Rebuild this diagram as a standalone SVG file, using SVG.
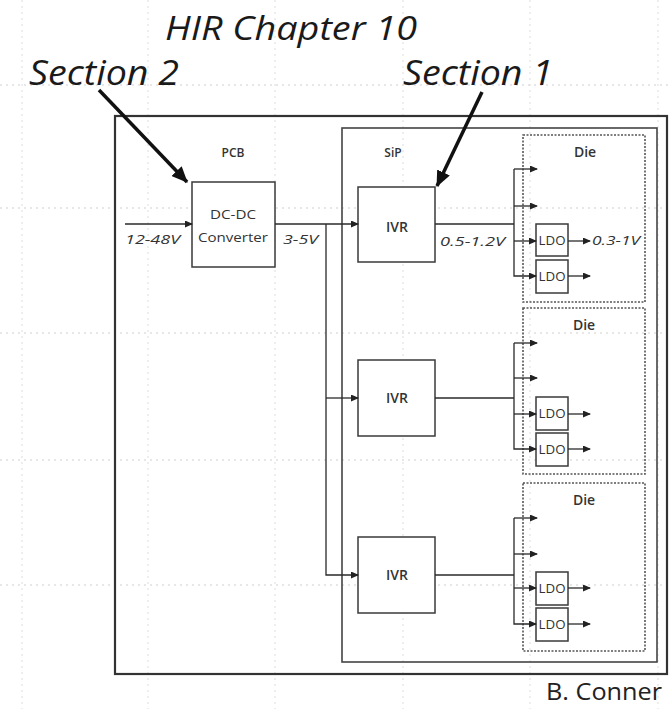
<svg xmlns="http://www.w3.org/2000/svg" width="669" height="709" viewBox="0 0 669 709">
<style>
.grid line{stroke:#cfcfcf;stroke-width:1;stroke-dasharray:2 4;fill:none}
.grid .v{stroke:#dddddd}
.box{fill:#fff;stroke:#3a3a3a;stroke-width:1.5}
.die{fill:none;stroke:#555;stroke-width:1.6;stroke-dasharray:2 1.5}
.ln{stroke:#2a2a2a;stroke-width:1.3;fill:none}
.big{font-family:"Open Sans","Noto Sans",sans-serif;font-style:italic;fill:#1a1a1a}
.lbl{font-family:"Open Sans","Noto Sans",sans-serif;font-weight:600;fill:#333;text-anchor:middle}
.reg{font-family:"Open Sans","Noto Sans",sans-serif;fill:#333;text-anchor:middle}
.v{font-family:"Open Sans","Noto Sans",sans-serif;font-style:italic;fill:#333}
</style>
<defs>
<marker id="ah" markerUnits="userSpaceOnUse" markerWidth="8" markerHeight="7" refX="7" refY="3.5" orient="auto"><path d="M0,0 L8,3.5 L0,7 z" fill="#222"/></marker>
<marker id="bh" markerUnits="userSpaceOnUse" markerWidth="16" markerHeight="14" refX="15" refY="7" orient="auto"><path d="M0,0 L16,7 L0,14 z" fill="#111"/></marker>
</defs>
<rect width="669" height="709" fill="#fff"/>
<g class="grid">
<line x1="0" y1="85" x2="669" y2="85"/>
<line x1="0" y1="208" x2="669" y2="208"/>
<line x1="0" y1="333" x2="669" y2="333"/>
<line x1="0" y1="460" x2="669" y2="460"/>
<line x1="0" y1="585" x2="669" y2="585"/>
<line class="v" x1="22" y1="0" x2="22" y2="709"/>
<line class="v" x1="148" y1="0" x2="148" y2="709"/>
<line class="v" x1="275" y1="0" x2="275" y2="709"/>
<line class="v" x1="403" y1="0" x2="403" y2="709"/>
<line class="v" x1="530" y1="0" x2="530" y2="709"/>
<line class="v" x1="658" y1="0" x2="658" y2="709"/>
</g>
<g id="title">
<text class="big" x="165" y="40" font-size="33" textLength="252" lengthAdjust="spacingAndGlyphs">HIR Chapter 10</text>
<text class="big" x="29" y="85" font-size="34" textLength="150" lengthAdjust="spacingAndGlyphs">Section 2</text>
<text class="big" x="403" y="85" font-size="34" textLength="150" lengthAdjust="spacingAndGlyphs">Section 1</text>
</g>
<g id="pcb">
<rect x="115" y="116" width="552" height="558" fill="none" stroke="#333" stroke-width="2.2"/>
<text class="lbl" x="233" y="157" font-size="12">PCB</text>
</g>
<g id="sip">
<rect x="342" y="128" width="315" height="534" fill="none" stroke="#444" stroke-width="1.6"/>
<text class="lbl" x="393" y="157" font-size="12">SiP</text>
</g>
<g id="die1"><rect class="die" x="523" y="135" width="122" height="167"/><text class="lbl" x="585" y="157" font-size="14">Die</text></g>
<g id="die2"><rect class="die" x="523" y="308" width="122" height="166"/><text class="lbl" x="584" y="330" font-size="14">Die</text></g>
<g id="die3"><rect class="die" x="523" y="483" width="122" height="168"/><text class="lbl" x="584" y="505" font-size="14">Die</text></g>
<g id="dcdc">
<rect class="box" x="192" y="182" width="83" height="85"/>
<text class="reg" x="233" y="219" font-size="13" textLength="46" lengthAdjust="spacingAndGlyphs">DC-DC</text>
<text class="reg" x="233" y="242" font-size="13" textLength="70" lengthAdjust="spacingAndGlyphs">Converter</text>
</g>
<g id="ivr1"><rect class="box" x="358" y="187" width="77" height="75"/><text class="lbl" x="397" y="232" font-size="14">IVR</text></g>
<g id="ivr2"><rect class="box" x="358" y="360" width="77" height="76"/><text class="lbl" x="397" y="403" font-size="14">IVR</text></g>
<g id="ivr3"><rect class="box" x="358" y="537" width="77" height="76"/><text class="lbl" x="397" y="580" font-size="14">IVR</text></g>
<g id="ldo1"><rect class="box" x="536" y="224" width="32" height="32"/><text class="reg" x="552" y="245" font-size="12" textLength="27" lengthAdjust="spacingAndGlyphs">LDO</text></g>
<g id="ldo2"><rect class="box" x="536" y="260" width="32" height="33"/><text class="reg" x="552" y="281" font-size="12" textLength="27" lengthAdjust="spacingAndGlyphs">LDO</text></g>
<g id="ldo3"><rect class="box" x="536" y="397" width="32" height="33"/><text class="reg" x="552" y="418" font-size="12" textLength="27" lengthAdjust="spacingAndGlyphs">LDO</text></g>
<g id="ldo4"><rect class="box" x="536" y="433" width="32" height="33"/><text class="reg" x="552" y="454" font-size="12" textLength="27" lengthAdjust="spacingAndGlyphs">LDO</text></g>
<g id="ldo5"><rect class="box" x="536" y="572" width="32" height="33"/><text class="reg" x="552" y="593" font-size="12" textLength="27" lengthAdjust="spacingAndGlyphs">LDO</text></g>
<g id="ldo6"><rect class="box" x="536" y="608" width="32" height="33"/><text class="reg" x="552" y="629" font-size="12" textLength="27" lengthAdjust="spacingAndGlyphs">LDO</text></g>
<g id="connectors">
<line class="ln" x1="125" y1="224" x2="192" y2="224" marker-end="url(#ah)"/>
<line class="ln" x1="275" y1="224" x2="358" y2="224" marker-end="url(#ah)"/>
<polyline class="ln" points="326,224 326,575 358,575" marker-end="url(#ah)"/>
<line class="ln" x1="326" y1="398" x2="358" y2="398" marker-end="url(#ah)"/>
<polyline class="ln" points="435,224 514,224"/>
<polyline class="ln" points="514,169 514,276 536,276" marker-end="url(#ah)"/>
<line class="ln" x1="514" y1="169" x2="537" y2="169" marker-end="url(#ah)"/>
<line class="ln" x1="514" y1="206" x2="537" y2="206" marker-end="url(#ah)"/>
<line class="ln" x1="514" y1="241" x2="536" y2="241" marker-end="url(#ah)"/>
<line class="ln" x1="568" y1="241" x2="590" y2="241" marker-end="url(#ah)"/>
<line class="ln" x1="568" y1="276" x2="590" y2="276" marker-end="url(#ah)"/>
<polyline class="ln" points="435,398 514,398"/>
<polyline class="ln" points="514,343 514,449 536,449" marker-end="url(#ah)"/>
<line class="ln" x1="514" y1="343" x2="537" y2="343" marker-end="url(#ah)"/>
<line class="ln" x1="514" y1="378" x2="537" y2="378" marker-end="url(#ah)"/>
<line class="ln" x1="514" y1="414" x2="536" y2="414" marker-end="url(#ah)"/>
<line class="ln" x1="568" y1="414" x2="590" y2="414" marker-end="url(#ah)"/>
<line class="ln" x1="568" y1="449" x2="590" y2="449" marker-end="url(#ah)"/>
<polyline class="ln" points="435,575 514,575"/>
<polyline class="ln" points="514,518 514,624 536,624" marker-end="url(#ah)"/>
<line class="ln" x1="514" y1="518" x2="537" y2="518" marker-end="url(#ah)"/>
<line class="ln" x1="514" y1="554" x2="537" y2="554" marker-end="url(#ah)"/>
<line class="ln" x1="514" y1="588" x2="536" y2="588" marker-end="url(#ah)"/>
<line class="ln" x1="568" y1="588" x2="590" y2="588" marker-end="url(#ah)"/>
<line class="ln" x1="568" y1="624" x2="590" y2="624" marker-end="url(#ah)"/>
<line x1="99" y1="90" x2="187" y2="182" stroke="#111" stroke-width="3.5" marker-end="url(#bh)"/>
<line x1="482" y1="92" x2="437" y2="186" stroke="#111" stroke-width="3.5" marker-end="url(#bh)"/>
</g>
<g id="labels">
<text class="v" x="125" y="244" font-size="12" textLength="55" lengthAdjust="spacingAndGlyphs">12-48V</text>
<text class="v" x="283" y="244" font-size="12" textLength="35" lengthAdjust="spacingAndGlyphs">3-5V</text>
<text class="v" x="440" y="246" font-size="12" textLength="65" lengthAdjust="spacingAndGlyphs">0.5-1.2V</text>
<text class="v" x="592" y="245" font-size="12" textLength="48" lengthAdjust="spacingAndGlyphs">0.3-1V</text>
<text x="546" y="700" font-family="Open Sans,Noto Sans,sans-serif" font-size="23" fill="#222" textLength="116" lengthAdjust="spacingAndGlyphs">B. Conner</text>
</g>
</svg>
